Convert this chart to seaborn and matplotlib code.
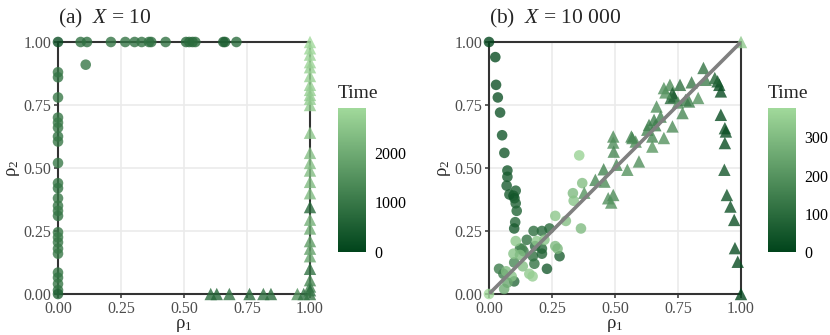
import numpy as np
import pandas as pd
import matplotlib
matplotlib.use("Agg")
import matplotlib.pyplot as plt
import seaborn as sns
from matplotlib.colors import LinearSegmentedColormap, Normalize
from matplotlib.cm import ScalarMappable

# ---- Datos panel (a): X = 10 ---------------------------------------------
a_circ_x = [0.0, 0.09, 0.115, 0.21, 0.267, 0.304, 0.332, 0.361, 0.37, 0.427,
            0.508, 0.521, 0.534, 0.545, 0.656, 0.663, 0.708, 0.11,
            0, 0, 0, 0, 0, 0, 0, 0, 0, 0, 0, 0, 0, 0, 0, 0, 0, 0, 0, 0, 0, 0, 0, 0, 0]
a_circ_y = [1, 1, 1, 1, 1, 1, 1, 1, 1, 1, 1, 1, 1, 1, 1, 1, 1, 0.91,
            0.88, 0.86, 0.78, 0.70, 0.68, 0.66, 0.625, 0.605, 0.52, 0.44, 0.42, 0.38,
            0.35, 0.33, 0.31, 0.245, 0.225, 0.205, 0.18, 0.16, 0.085, 0.065, 0.04, 0.015, 0.0]
a_circ_t = [200, 900, 850, 950, 950, 900, 950, 900, 850, 900, 700, 750, 700, 800,
            500, 550, 800, 1000,
            1000, 950, 1050, 1000, 1050, 1000, 950, 1000, 1050, 1000, 950, 1000,
            1000, 1050, 950, 1000, 1050, 1000, 1000, 1050, 1000, 950, 1000, 900, 600]

a_tri_x = [1] * 28 + [0.606, 0.63, 0.68, 0.76, 0.815, 0.845, 0.95, 0.975]
a_tri_y = [1.0, 0.975, 0.95, 0.92, 0.9, 0.865, 0.83, 0.81, 0.79, 0.775, 0.75, 0.64,
           0.56, 0.52, 0.49, 0.445, 0.4, 0.345, 0.295, 0.26, 0.21, 0.18, 0.15, 0.1,
           0.055, 0.03, 0.015, 0.0,
           0, 0, 0, 0, 0, 0, 0, 0]
a_tri_t = [2900, 2850, 2800, 2800, 2750, 2750, 2700, 2700, 2650, 2650, 2600, 2500,
           2400, 2400, 2350, 2300, 2300, 700, 2100, 2000, 1700, 1800, 1900, 900,
           1300, 1200, 800, 1000,
           800, 700, 900, 800, 900, 800, 1500, 900]

# ---- Datos panel (b): X = 10 000 -----------------------------------------
b_circ_x = [0.0, 0.025, 0.028, 0.035, 0.044, 0.052, 0.061, 0.073, 0.073, 0.07, 0.081,
            0.097, 0.106, 0.101, 0.106, 0.11, 0.104, 0.1,
            0.177, 0.21, 0.24, 0.15, 0.123, 0.183, 0.21, 0.174, 0.21, 0.28, 0.18,
            0.23, 0.1, 0.04, 0.057, 0.1, 0.137, 0.13,
            0.106, 0.097, 0.123, 0.134, 0.16, 0.173, 0.068, 0.09, 0.073, 0.06, 0.0,
            0.19, 0.22, 0.263, 0.272, 0.263, 0.305, 0.333, 0.336, 0.358, 0.37, 0.365]
b_circ_y = [1.0, 0.94, 0.83, 0.78, 0.72, 0.63, 0.56, 0.49, 0.465, 0.43, 0.395,
            0.39, 0.41, 0.38, 0.36, 0.33, 0.285, 0.26,
            0.25, 0.25, 0.26, 0.215, 0.18, 0.19, 0.18, 0.15, 0.16, 0.15, 0.12,
            0.1, 0.05, 0.1, 0.08, 0.125, 0.17, 0.18,
            0.21, 0.16, 0.155, 0.11, 0.08, 0.07, 0.09, 0.07, 0.045, 0.02, 0.0,
            0.21, 0.215, 0.19, 0.18, 0.31, 0.29, 0.4, 0.37, 0.55, 0.44, 0.26]
b_circ_t = [5, 20, 30, 35, 40, 45, 50, 55, 60, 60, 65, 40, 70, 45, 75, 80, 85, 60,
            110, 100, 95, 120, 130, 100, 90, 110, 80, 70, 120, 60, 100, 140, 150, 170, 150, 170,
            330, 320, 300, 310, 340, 350, 300, 320, 250, 260, 377,
            330, 320, 300, 290, 330, 310, 300, 320, 360, 310, 300]

b_tri_x = [1.0, 0.987, 0.976, 0.973, 0.958, 0.944, 0.934, 0.936, 0.94, 0.936, 0.92,
           0.92, 0.914, 0.907, 0.896,
           0.851, 0.804, 0.758, 0.718, 0.694, 0.728, 0.734, 0.721, 0.83, 0.794, 0.768,
           0.665, 0.681, 0.655, 0.635, 0.628, 0.648, 0.694, 0.728, 0.648, 0.569, 0.595,
           0.549, 0.493, 0.493, 0.495, 0.565, 0.582, 0.506, 0.455, 0.422, 0.458, 0.378,
           0.473, 0.493, 0.485, 1.0, 0.70, 0.75, 0.86, 0.78, 0.66]
b_tri_y = [0.0, 0.128, 0.182, 0.294, 0.347, 0.393, 0.493, 0.599, 0.645, 0.658, 0.711,
           0.804, 0.83, 0.844, 0.857,
           0.897, 0.84, 0.83, 0.83, 0.817, 0.797, 0.784, 0.778, 0.778, 0.764, 0.718,
           0.744, 0.704, 0.691, 0.671, 0.652, 0.625, 0.619, 0.665, 0.585, 0.619, 0.526,
           0.493, 0.625, 0.601, 0.565, 0.625, 0.605, 0.513, 0.495, 0.453, 0.446, 0.402,
           0.38, 0.393, 0.363, 1.0, 0.80, 0.76, 0.85, 0.77, 0.67]
b_tri_t = [5, 20, 25, 30, 35, 40, 50, 20, 25, 30, 20, 15, 20, 40, 80,
           120, 130, 110, 180, 190, 60, 70, 90, 200, 150, 170,
           190, 160, 150, 140, 160, 170, 200, 180, 210, 170, 190,
           200, 180, 190, 170, 160, 180, 170, 160, 170, 180, 200,
           190, 180, 200, 330, 200, 190, 150, 140, 150]

paneles = [
    ("(a)  $X$ = 10", a_circ_x, a_circ_y, a_circ_t, a_tri_x, a_tri_y, a_tri_t, 2900, [0, 1000, 2000], False),
    ("(b)  $X$ = 10 000", b_circ_x, b_circ_y, b_circ_t, b_tri_x, b_tri_y, b_tri_t, 377, [0, 100, 200, 300], True),
]

sns.set_theme(style="white")
plt.rcParams["font.family"] = ["Liberation Serif", "DejaVu Serif"]
plt.rcParams["mathtext.fontset"] = "custom"
plt.rcParams["mathtext.rm"] = "Liberation Serif"
plt.rcParams["mathtext.it"] = "Liberation Serif:italic"

verdes = LinearSegmentedColormap.from_list("verdes", ["#00441b", "#a1d99b"])

fig = plt.figure(figsize=(8.3, 3.35), dpi=100)
pos_ax = [[58, 294], [489, 294]]
pos_cb = [338, 768]
W, H = 830, 335

for i, (titulo, cx, cy, ct, tx, ty, tt, tmax, cticks, diagonal) in enumerate(paneles):
    x0, y0 = pos_ax[i]
    ax = fig.add_axes([x0 / W, 1 - y0 / H, 252 / W, 252 / H])
    norm = Normalize(0, tmax)
    circ = pd.DataFrame({"r1": cx, "r2": cy, "Time": ct})
    tri = pd.DataFrame({"r1": tx, "r2": ty, "Time": tt})

    ax.grid(True, color="#ebebeb", linewidth=1.2, zorder=0)
    ax.set_axisbelow(True)
    sns.scatterplot(data=circ, x="r1", y="r2", hue="Time", palette=verdes, hue_norm=norm,
                    marker="o", s=58, alpha=0.8, linewidth=0, legend=False, ax=ax,
                    clip_on=False, zorder=3)
    sns.scatterplot(data=tri, x="r1", y="r2", hue="Time", palette=verdes, hue_norm=norm,
                    marker="^", s=80, alpha=0.8, linewidth=0, legend=False, ax=ax,
                    clip_on=False, zorder=3)
    for v in (0, 1):
        ax.axhline(v, color="#333333", linewidth=1.5, zorder=2, clip_on=False)
        ax.axvline(v, color="#333333", linewidth=1.5, zorder=2, clip_on=False)
    if diagonal:
        ax.plot([0, 1], [0, 1], color="#808080", linewidth=2.6, zorder=4, solid_capstyle="butt")

    ax.set_xlim(0, 1)
    ax.set_ylim(0, 1)
    ticks = [0, 0.25, 0.5, 0.75, 1.0]
    ax.set_xticks(ticks)
    ax.set_yticks(ticks)
    ax.set_xticklabels([f"{t:.2f}" for t in ticks])
    ax.set_yticklabels([f"{t:.2f}" for t in ticks])
    ax.tick_params(axis="both", which="major", length=3, width=1.1, color="#333333",
                   labelsize=11.5, labelcolor="#4d4d4d", pad=2,
                   bottom=True, left=True, direction="out")
    for s in ax.spines.values():
        s.set_visible(False)
    ax.set_xlabel("ρ$_1$", fontsize=13.5, labelpad=0)
    ax.set_ylabel("ρ$_2$", fontsize=13.5, labelpad=1)
    ax.set_title(titulo, loc="left", fontsize=15.5, pad=13)

    cax = fig.add_axes([pos_cb[i] / W, 1 - 252 / H, 28 / W, 144 / H])
    cb = fig.colorbar(ScalarMappable(norm=norm, cmap=verdes), cax=cax)
    cb.outline.set_visible(False)
    cb.set_ticks(cticks)
    cax.tick_params(axis="y", direction="in", length=5, width=1, color="white",
                    left=True, right=True, labelsize=11.5, labelcolor="black", pad=6)
    cax.set_title("Time", loc="left", fontsize=14, pad=7)

fig.savefig("out.png", dpi=100)
